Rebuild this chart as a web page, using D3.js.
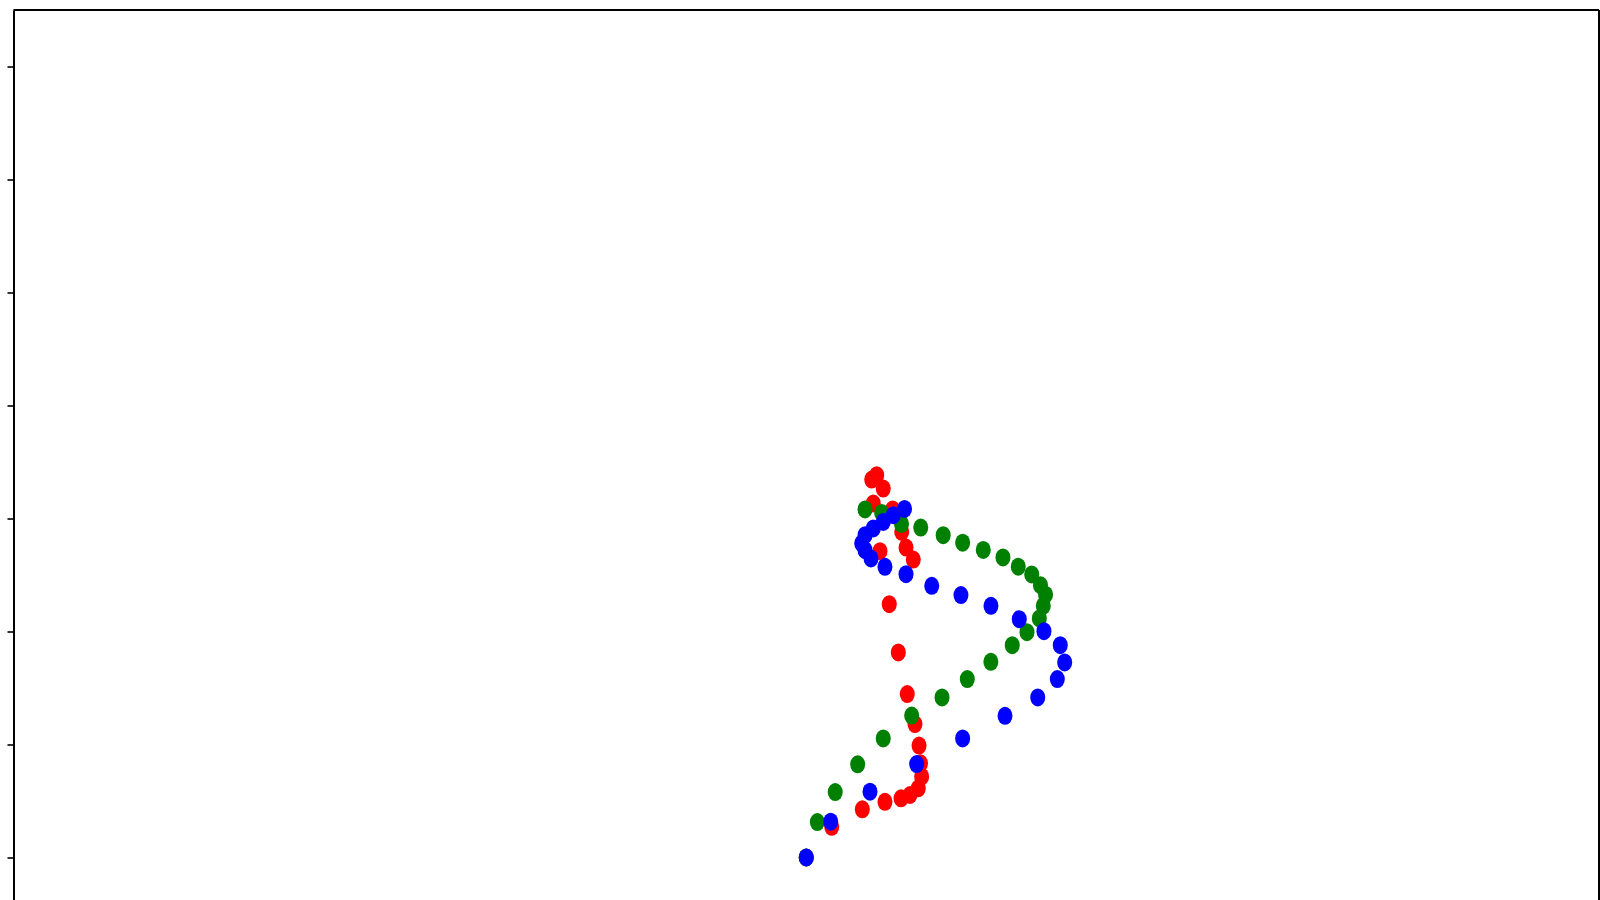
<!DOCTYPE html>
<html>
<head>
<meta charset="utf-8">
<script src="https://cdn.jsdelivr.net/npm/d3@7"></script>
<style>
  html, body { margin: 0; padding: 0; background: #fff; overflow: hidden; }
  svg { display: block; }
</style>
</head>
<body>
<svg id="chart" width="1600" height="900"></svg>
<script>
// ---- data ----
const yTicks = [0, 1, 2, 3, 4, 5, 6, 7];

const redX = [0, 0.225, 0.495, 0.695, 0.837, 0.916, 0.989, 1.019, 1.009, 0.996, 0.960, 0.892, 0.813, 0.733, 0.651, 0.945, 0.881, 0.843, 0.763, 0.592, 0.680, 0.622, 0.578];
const redY = [0, 0.272, 0.426, 0.493, 0.524, 0.553, 0.612, 0.715, 0.833, 0.991, 1.181, 1.446, 1.815, 2.242, 2.711, 2.637, 2.743, 2.881, 3.080, 3.133, 3.265, 3.383, 3.345];

const greenX = [0, 0.098, 0.256, 0.454, 0.680, 0.931, 1.199, 1.422, 1.630, 1.819, 1.949, 2.058, 2.093, 2.113, 2.068, 1.991, 1.872, 1.737, 1.563, 1.381, 1.209, 1.011, 0.841, 0.666, 0.519];
const greenY = [0, 0.314, 0.579, 0.825, 1.054, 1.256, 1.417, 1.579, 1.732, 1.879, 1.994, 2.116, 2.226, 2.326, 2.410, 2.505, 2.574, 2.655, 2.722, 2.786, 2.852, 2.920, 2.952, 3.049, 3.080];

const blueX = [0, 0.216, 0.563, 0.975, 1.381, 1.755, 2.044, 2.217, 2.282, 2.243, 2.099, 1.881, 1.631, 1.366, 1.108, 0.881, 0.695, 0.572, 0.519, 0.490, 0.519, 0.592, 0.680, 0.769, 0.868];
const blueY = [0, 0.317, 0.582, 0.827, 1.054, 1.254, 1.417, 1.579, 1.726, 1.879, 2.003, 2.109, 2.227, 2.322, 2.404, 2.507, 2.572, 2.646, 2.720, 2.779, 2.852, 2.912, 2.970, 3.029, 3.085];

const seriesNames = ["red", "green", "blue"];
const seriesColors = ["#ff0000", "#008000", "#0000ff"];
const seriesX = [redX, greenX, blueX];
const seriesY = [redY, greenY, blueY];

// ---- layout ----
const padL = 13.5, padR = 1599, padT = 10, padB = 914;
const svg = d3.select("#chart");

const x = d3.scaleLinear().domain([-7, 7]).range([padL, padR]);
const y = d3.scaleLinear().domain([-0.5, 7.5]).range([padB, padT]);

// points
seriesNames.forEach((name, si) => {
  const pts = seriesX[si].map((v, i) => ({ x: v, y: seriesY[si][i] }));
  svg.append("g").attr("class", "series-" + name)
    .selectAll("ellipse").data(pts).join("ellipse")
    .attr("cx", d => x(d.x))
    .attr("cy", d => y(d.y))
    .attr("rx", 7.5)
    .attr("ry", 9)
    .attr("fill", seriesColors[si]);
});

// frame
const frame = svg.append("g").attr("stroke", "#000").attr("stroke-width", 2).attr("fill", "none");
frame.append("line").attr("x1", padL).attr("x2", padR).attr("y1", padT).attr("y2", padT);
frame.append("line").attr("x1", padR).attr("x2", padR).attr("y1", padT).attr("y2", padB);

// left axis
const yAxis = d3.axisLeft(y).tickValues(yTicks).tickFormat("").tickSize(6).tickSizeOuter(0);
const gy = svg.append("g").attr("transform", `translate(${padL},0)`).call(yAxis);
gy.select(".domain").attr("stroke", "#000").attr("stroke-width", 2);
gy.selectAll(".tick line").attr("stroke", "#000").attr("stroke-width", 1.6);
</script>
</body>
</html>
